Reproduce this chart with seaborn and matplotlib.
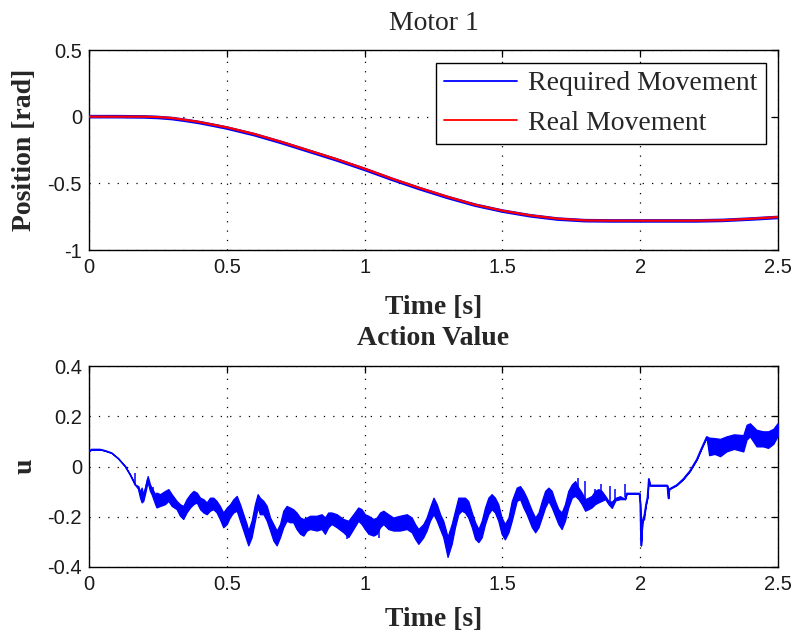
import numpy as np
import pandas as pd
import matplotlib
matplotlib.use("Agg")
import matplotlib.pyplot as plt
import seaborn as sns

# ---- Motor 1 position [rad] ----
pos_time = [0.0, 0.1, 0.2, 0.25, 0.3, 0.35, 0.4, 0.45, 0.5, 0.6, 0.7, 0.8, 0.9,
            1.0, 1.1, 1.2, 1.3, 1.4, 1.5, 1.6, 1.7, 1.8, 1.9, 2.0, 2.1, 2.2,
            2.3, 2.4, 2.5]
pos_required = [0.0, 0.0, -0.002, -0.006, -0.014, -0.028, -0.044, -0.064, -0.085,
                -0.135, -0.195, -0.26, -0.325, -0.395, -0.47, -0.54, -0.605,
                -0.663, -0.708, -0.743, -0.768, -0.78, -0.782, -0.782, -0.782,
                -0.782, -0.778, -0.768, -0.756]
pos_real = [0.0, 0.0, 0.0, -0.003, -0.01, -0.024, -0.04, -0.06, -0.08, -0.13,
            -0.19, -0.255, -0.32, -0.39, -0.465, -0.535, -0.6, -0.66, -0.705,
            -0.74, -0.765, -0.778, -0.78, -0.78, -0.78, -0.78, -0.777, -0.766,
            -0.753]

# ---- Action value u: band limits of the control signal ----
u_time = [0.0, 0.01, 0.04, 0.058, 0.082, 0.106, 0.131, 0.149, 0.161, 0.167,
          0.179, 0.185, 0.191, 0.197, 0.203, 0.213, 0.221, 0.227, 0.24, 0.245,
          0.258, 0.276, 0.288, 0.3, 0.318, 0.33, 0.342, 0.354, 0.367, 0.379,
          0.391, 0.403, 0.415, 0.427, 0.439, 0.451, 0.463, 0.475, 0.487, 0.5,
          0.512, 0.524, 0.536, 0.548, 0.56, 0.572, 0.578, 0.59, 0.602, 0.612,
          0.62, 0.633, 0.645, 0.657, 0.669, 0.681, 0.693, 0.705, 0.717, 0.729,
          0.741, 0.753, 0.766, 0.778, 0.79, 0.802, 0.826, 0.844, 0.856, 0.868,
          0.88, 0.899, 0.923, 0.941, 0.959, 0.977, 0.989, 1.001, 1.014, 1.032,
          1.044, 1.056, 1.068, 1.086, 1.104, 1.128, 1.153, 1.171, 1.183, 1.195,
          1.213, 1.225, 1.237, 1.25, 1.262, 1.274, 1.285, 1.292, 1.301, 1.316,
          1.328, 1.34, 1.352, 1.364, 1.376, 1.389, 1.401, 1.413, 1.425, 1.437,
          1.449, 1.461, 1.473, 1.485, 1.497, 1.509, 1.522, 1.534, 1.552, 1.564,
          1.576, 1.588, 1.607, 1.619, 1.631, 1.643, 1.655, 1.667, 1.679, 1.691,
          1.703, 1.715, 1.727, 1.739, 1.752, 1.764, 1.776, 1.788, 1.8, 1.812,
          1.824, 1.836, 1.848, 1.86, 1.873, 1.885, 1.897, 1.91, 1.927, 1.945,
          1.951, 1.997, 2.0, 2.003, 2.008, 2.014, 2.021, 2.026, 2.031, 2.035,
          2.098, 2.102, 2.105, 2.132, 2.156, 2.18, 2.205, 2.223, 2.241, 2.25,
          2.27, 2.29, 2.313, 2.34, 2.374, 2.386, 2.398, 2.422, 2.446, 2.464,
          2.483, 2.498, 2.5]
u_upper = [0.062, 0.068, 0.068, 0.063, 0.054, 0.032, 0.001, -0.032, -0.058, -0.072,
           -0.078, -0.1, -0.084, -0.11, -0.085, -0.038, -0.07, -0.084, -0.11, -0.104,
           -0.11, -0.097, -0.09, -0.11, -0.137, -0.15, -0.157, -0.13, -0.11, -0.097,
           -0.104, -0.124, -0.13, -0.143, -0.124, -0.124, -0.137, -0.157, -0.183, -0.163,
           -0.15, -0.13, -0.117, -0.15, -0.19, -0.229, -0.255, -0.216, -0.15, -0.11,
           -0.124, -0.137, -0.157, -0.203, -0.229, -0.255, -0.229, -0.176, -0.157, -0.163,
           -0.17, -0.183, -0.203, -0.209, -0.203, -0.196, -0.196, -0.19, -0.203, -0.183,
           -0.183, -0.19, -0.209, -0.216, -0.19, -0.163, -0.17, -0.19, -0.196, -0.209,
           -0.203, -0.183, -0.176, -0.19, -0.203, -0.196, -0.19, -0.203, -0.229, -0.249,
           -0.229, -0.203, -0.163, -0.124, -0.15, -0.19, -0.215, -0.242, -0.28, -0.229,
           -0.176, -0.124, -0.124, -0.124, -0.137, -0.183, -0.222, -0.249, -0.216, -0.163,
           -0.124, -0.11, -0.124, -0.15, -0.203, -0.229, -0.203, -0.137, -0.084, -0.078,
           -0.097, -0.124, -0.176, -0.203, -0.183, -0.137, -0.097, -0.084, -0.097, -0.137,
           -0.17, -0.183, -0.15, -0.097, -0.071, -0.058, -0.084, -0.104, -0.13, -0.124,
           -0.117, -0.097, -0.09, -0.097, -0.117, -0.137, -0.14, -0.125, -0.118, -0.13,
           -0.107, -0.107, -0.15, -0.314, -0.216, -0.19, -0.15, -0.124, -0.049, -0.075,
           -0.075, -0.126, -0.09, -0.074, -0.05, -0.018, 0.028, 0.074, 0.12, 0.115,
           0.113, 0.11, 0.12, 0.128, 0.125, 0.166, 0.172, 0.146, 0.14, 0.14,
           0.15, 0.172, 0.17]
u_lower = [0.062, 0.068, 0.068, 0.063, 0.054, 0.032, 0.001, -0.032, -0.058, -0.072,
           -0.09, -0.124, -0.143, -0.137, -0.11, -0.06, -0.097, -0.11, -0.15, -0.163,
           -0.157, -0.15, -0.137, -0.157, -0.17, -0.196, -0.209, -0.183, -0.163, -0.15,
           -0.143, -0.17, -0.183, -0.19, -0.176, -0.17, -0.183, -0.21, -0.242, -0.229,
           -0.2, -0.183, -0.176, -0.216, -0.255, -0.295, -0.314, -0.282, -0.216, -0.163,
           -0.19, -0.19, -0.216, -0.255, -0.295, -0.314, -0.282, -0.242, -0.216, -0.222,
           -0.222, -0.249, -0.268, -0.275, -0.255, -0.249, -0.255, -0.249, -0.268, -0.242,
           -0.229, -0.242, -0.262, -0.281, -0.249, -0.216, -0.229, -0.249, -0.268, -0.275,
           -0.268, -0.242, -0.229, -0.249, -0.255, -0.255, -0.249, -0.262, -0.288, -0.308,
           -0.282, -0.255, -0.216, -0.19, -0.216, -0.25, -0.28, -0.314, -0.36, -0.308,
           -0.242, -0.19, -0.176, -0.183, -0.203, -0.242, -0.288, -0.301, -0.282, -0.229,
           -0.19, -0.17, -0.183, -0.216, -0.268, -0.29, -0.262, -0.216, -0.137, -0.13,
           -0.163, -0.19, -0.242, -0.262, -0.242, -0.203, -0.163, -0.137, -0.163, -0.196,
           -0.229, -0.249, -0.216, -0.163, -0.124, -0.117, -0.13, -0.15, -0.176, -0.17,
           -0.163, -0.15, -0.143, -0.137, -0.13, -0.15, -0.165, -0.135, -0.13, -0.13,
           -0.107, -0.107, -0.15, -0.314, -0.216, -0.21, -0.15, -0.124, -0.049, -0.075,
           -0.075, -0.126, -0.09, -0.074, -0.05, -0.018, 0.028, 0.074, 0.115, 0.045,
           0.05, 0.041, 0.06, 0.07, 0.06, 0.107, 0.12, 0.08, 0.08, 0.074,
           0.09, 0.12, 0.125]

# short vertical excursions of u (time, low, high)
spike_time = [0.167, 0.233, 0.935, 1.052, 1.776, 1.8, 1.836, 1.859, 1.89, 1.909, 1.945]
spike_low = [-0.075, -0.11, -0.289, -0.285, -0.13, -0.16, -0.145, -0.143, -0.137, -0.143, -0.123]
spike_high = [-0.025, -0.08, -0.22, -0.2, -0.045, -0.057, -0.09, -0.07, -0.077, -0.09, -0.07]

# ---- axes ticks ----
time_ticks = [0, 0.5, 1, 1.5, 2, 2.5]
time_labels = ["0", "0.5", "1", "1.5", "2", "2.5"]
pos_ticks = [-1, -0.5, 0, 0.5]
pos_labels = ["-1", "-0.5", "0", "0.5"]
u_ticks = [-0.4, -0.2, 0, 0.2, 0.4]
u_labels = ["-0.4", "-0.2", "0", "0.2", "0.4"]

sns.set_style("white")
plt.rcParams["font.family"] = ["Liberation Serif", "DejaVu Serif"]
plt.rcParams["axes.unicode_minus"] = False

SERIF = "Liberation Serif"
SANS = "Liberation Sans"
BLUE = "#0000ff"
RED = "#ff0000"

fig = plt.figure(figsize=(7.95, 6.32), dpi=100)
fig.patch.set_facecolor("white")
W, H = 795.0, 632.0
ax1 = fig.add_axes([89 / W, 1 - 250 / H, 689 / W, 200 / H])
ax2 = fig.add_axes([89 / W, 1 - 567 / H, 689 / W, 201 / H])


def style_axes(ax, yticks, ylabels, ylim):
    ax.set_xlim(0, 2.5)
    ax.set_ylim(*ylim)
    ax.set_xticks(time_ticks)
    ax.set_xticklabels(time_labels, fontfamily=SANS, fontsize=14.5)
    ax.set_yticks(yticks)
    ax.set_yticklabels(ylabels, fontfamily=SANS, fontsize=14.5)
    ax.tick_params(direction="in", length=5, width=0.9, color="black",
                   top=True, right=True, labelcolor="#1a1a1a")
    ax.tick_params(axis="x", pad=6)
    ax.tick_params(axis="y", pad=5)
    ax.grid(True, color="black", linestyle=(0, (1, 6.5)), linewidth=0.9)
    ax.set_axisbelow(False)
    for s in ax.spines.values():
        s.set_visible(True)
        s.set_color("black")
        s.set_linewidth(1.0)
    ax.set_facecolor("white")


# top panel: position tracking
pos_df = pd.DataFrame({"t": pos_time, "req": pos_required, "real": pos_real})
sns.lineplot(data=pos_df, x="t", y="req", ax=ax1, color=BLUE, lw=2.6,
             estimator=None, sort=False, label="Required Movement", zorder=3)
sns.lineplot(data=pos_df, x="t", y="real", ax=ax1, color=RED, lw=1.6,
             estimator=None, sort=False, label="Real Movement", zorder=4)
style_axes(ax1, pos_ticks, pos_labels, (-1, 0.5))
leg = ax1.legend(loc="upper right", frameon=True, fancybox=False,
                 edgecolor="black", framealpha=1, handlelength=2.6,
                 labelspacing=0.5, borderpad=0.3, handletextpad=0.4,
                 borderaxespad=0.45, prop={"family": SERIF, "size": 20})
leg.get_frame().set_linewidth(1.0)
for h in leg.get_lines():
    h.set_linewidth(1.3)
ax1.set_xlabel("Time [s]", fontfamily=SERIF, fontsize=20, fontweight="bold", va="center")
ax1.xaxis.set_label_coords(0.5, -0.29)
ax1.set_ylabel("Position [rad]", fontfamily=SERIF, fontsize=20, fontweight="bold", va="center")
ax1.yaxis.set_label_coords(-0.093, 0.5)
ax1.text(0.5, 1.135, "Motor 1", transform=ax1.transAxes, ha="center", va="center",
         fontfamily=SERIF, fontsize=20)

# bottom panel: control action
u_df = pd.DataFrame({"t": u_time, "hi": u_upper, "lo": u_lower})
u_df["mid"] = (u_df["hi"] + u_df["lo"]) / 2
ax2.fill_between(u_df["t"], u_df["lo"], u_df["hi"], facecolor=BLUE,
                 edgecolor=BLUE, linewidth=0.9, zorder=3)
sns.lineplot(data=u_df, x="t", y="mid", ax=ax2, color=BLUE, lw=1.1,
             estimator=None, sort=False, zorder=3)
ax2.vlines(spike_time, spike_low, spike_high, colors=BLUE, linewidth=1.1, zorder=3)
style_axes(ax2, u_ticks, u_labels, (-0.4, 0.4))
ax2.set_xlabel("Time [s]", fontfamily=SERIF, fontsize=20, fontweight="bold", va="center")
ax2.xaxis.set_label_coords(0.5, -0.262)
ax2.set_ylabel("u", fontfamily=SERIF, fontsize=20, fontweight="bold", va="center")
ax2.yaxis.set_label_coords(-0.093, 0.5)
ax2.text(0.5, 1.137, "Action Value", transform=ax2.transAxes, ha="center", va="center",
         fontfamily=SERIF, fontsize=20, fontweight="bold")

fig.savefig("out.png", dpi=100, facecolor="white")
